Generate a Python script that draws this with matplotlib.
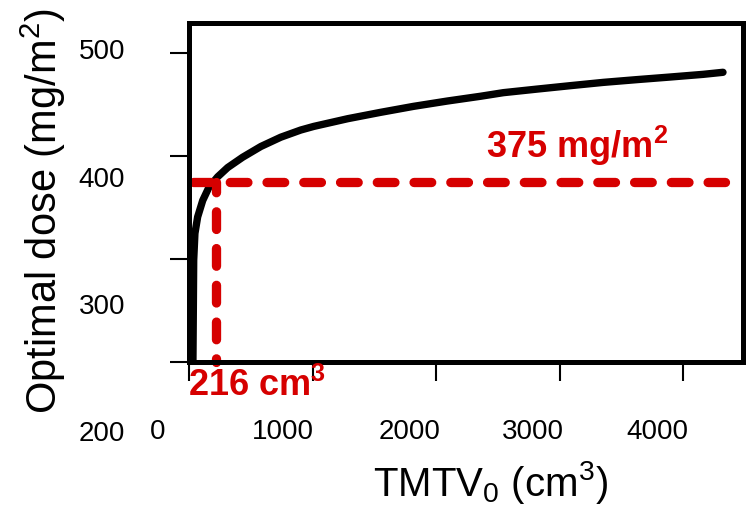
import matplotlib
matplotlib.use("Agg")
import matplotlib.pyplot as plt

plt.rcParams['font.family'] = ['Liberation Sans', 'DejaVu Sans']
plt.rcParams['mathtext.fontset'] = 'custom'
plt.rcParams['mathtext.rm'] = 'Liberation Sans'
plt.rcParams['mathtext.it'] = 'Liberation Sans:italic'
plt.rcParams['mathtext.bf'] = 'Liberation Sans:bold'

# Curve: TMTV0 (cm3) vs optimal dose (mg/m2)
tmtv = [30, 32, 38, 48, 70, 111, 162, 232, 313, 434, 582, 743, 905, 1010,
        1285, 1552, 1818, 2093, 2360, 2545, 2820, 3087, 3354, 3628, 3895,
        4162, 4323]
dose = [196, 202, 299, 325, 341, 357, 370, 380, 389, 399, 409.5, 418.5,
        425.5, 429, 436.5, 442.7, 448.5, 453.7, 458.3, 461.8, 465.3, 468.6,
        471.8, 474.5, 477.0, 479.6, 481.6]

thr_tmtv = 216
thr_dose = 375
x_min, x_max = 30, 4340

xticks = [0, 1000, 2000, 3000, 4000]
xtick_labels = ['0', '1000', '2000', '3000', '4000']
yticks = [200, 300, 400, 500]
ytick_labels = ['200', '300', '400', '500']

RED = '#D60000'
W, H = 748, 509
fig = plt.figure(figsize=(W / 100, H / 100), dpi=100)
ax = fig.add_axes([189 / W, 1 - 362 / H, (743 - 189) / W, (362 - 22.5) / H])
ax.set_xlim(8, 4485)
ax.set_ylim(200, 530)

ax.plot(tmtv, dose, color='black', lw=5.3, solid_capstyle='round',
        solid_joinstyle='round', zorder=3)

ax.plot([x_min, x_max], [thr_dose, thr_dose], color=RED, lw=6.7,
        linestyle=(0, (1.9, 2.05)), dash_capstyle='round', zorder=4)
ax.plot([thr_tmtv, thr_tmtv], [thr_dose, 200], color=RED, lw=6.7,
        linestyle=(0.8, (1.9, 2.05)), dash_capstyle='round', zorder=4,
        clip_on=False)

for s in ax.spines.values():
    s.set_linewidth(3.6)
    s.set_zorder(5)

ax.set_xticks(xticks)
ax.set_yticks(yticks)
ax.set_xticklabels([])
ax.set_yticklabels([])
ax.tick_params(direction='out', length=14, width=1.5, color='black')

# tick labels (placed as in the reference)
xlab_px = [158, 283, 410, 533, 657]
for lab, px in zip(xtick_labels, xlab_px):
    fig.text(px / W, 1 - 432 / H, lab, ha='center', va='center', fontsize=20)
ylab_py = [434, 307, 180, 52]
for lab, py in zip(ytick_labels, ylab_py):
    fig.text(102 / W, 1 - py / H, lab, ha='center', va='center', fontsize=20)

fig.text(43 / W, 1 - 211 / H, r'Optimal dose (mg/m$^2$)', rotation=90,
         ha='center', va='center', fontsize=30)
fig.text(490 / W, 1 - 483 / H, r'TMTV$_0$ (cm$^3$)', ha='center',
         va='center', fontsize=29)

fig.text(577 / W, 1 - 146 / H, r'375 mg/m$^{\mathbf{2}}$', color=RED,
         fontweight='bold', ha='center', va='center', fontsize=26)
fig.text(188 / W, 1 - 386 / H, r'216 cm$^{\mathbf{3}}$', color=RED,
         fontweight='bold', ha='left', va='center', fontsize=26)

fig.savefig('out.png', dpi=100)
